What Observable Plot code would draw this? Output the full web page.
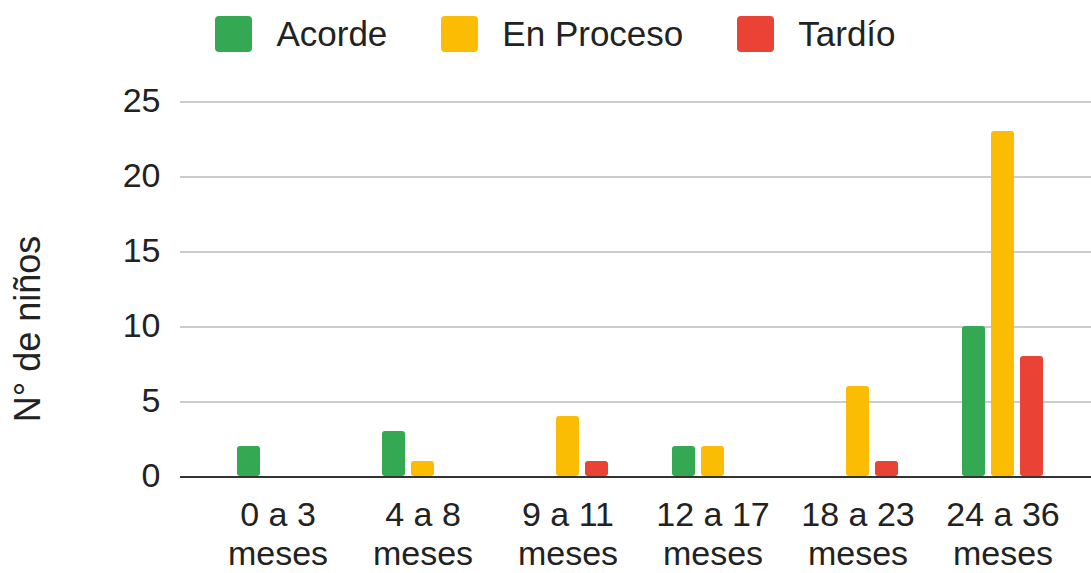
<!DOCTYPE html>
<html>
<head>
<meta charset="utf-8">
<script src="https://cdn.jsdelivr.net/npm/d3@7"></script>
<script src="https://cdn.jsdelivr.net/npm/@observablehq/plot@0.6"></script>
<style>
  html, body { margin: 0; padding: 0; background: #fff; }
  body { width: 1091px; height: 573px; overflow: hidden; font-family: "Liberation Sans", Arial, sans-serif; }
  #legend { height: 68px; display: flex; justify-content: center; align-items: center; padding-left: 20px; box-sizing: border-box; }
  .item { display: flex; align-items: center; margin: 0 27px; font-size: 35px; color: #222; }
  .sw { width: 37px; height: 36px; border-radius: 4px; margin-right: 24px; }
  #chart svg { display: block; }
</style>
</head>
<body>
<div id="legend"></div>
<div id="chart"></div>
<script>
const categories = ["0 a 3 meses", "4 a 8 meses", "9 a 11 meses", "12 a 17 meses", "18 a 23 meses", "24 a 36 meses"];
const series = ["Acorde", "En Proceso", "Tardío"];
const colors = ["#34a853", "#fbbc04", "#ea4335"];
const acorde = [2, 3, 0, 2, 0, 10];
const enProceso = [0, 1, 4, 2, 6, 23];
const tardio = [0, 0, 1, 0, 1, 8];
const yTicks = [0, 5, 10, 15, 20, 25];
const yLabel = "N° de niños";

const values = [acorde, enProceso, tardio];
const data = [];
categories.forEach((c, i) => series.forEach((s, j) => data.push({cat: c, serie: s, value: values[j][i]})));

const legend = document.getElementById("legend");
series.forEach((s, j) => {
  const it = document.createElement("div");
  it.className = "item";
  const sw = document.createElement("div");
  sw.className = "sw";
  sw.style.background = colors[j];
  it.appendChild(sw);
  it.appendChild(document.createTextNode(s));
  legend.appendChild(it);
});

const chart = Plot.plot({
  width: 1091,
  height: 505,
  marginLeft: 180,
  marginRight: 0,
  marginTop: 33,
  marginBottom: 97,
  style: {fontFamily: "Liberation Sans, Arial, sans-serif", color: "#222", background: "#fff"},
  fx: {domain: categories, paddingInner: 0, paddingOuter: 0.137, align: 0.613, label: null},
  x: {domain: series, paddingInner: 0.2, paddingOuter: 1.02, axis: null},
  y: {domain: [0, 25], label: null},
  color: {domain: series, range: colors},
  marks: [
    Plot.ruleY(yTicks.filter(d => d > 0), {stroke: "#cccccc", strokeWidth: 2, insetLeft: -25, insetRight: -16, shapeRendering: "crispEdges"}),
    Plot.barY(data.filter(d => d.value > 0), {fx: "cat", x: "serie", y: "value", fill: "serie", rx: 3, ry: 3}),
    Plot.ruleY([0], {stroke: "#333333", strokeWidth: 2, insetLeft: -25, insetRight: -16, shapeRendering: "crispEdges"}),
    Plot.axisY({ticks: yTicks, tickSize: 0, tickPadding: 45, fontSize: 34, label: null}),
    Plot.text([yLabel], {facet: "super", frameAnchor: "left", rotate: -90, lineAnchor: "middle", textAnchor: "middle",
      dx: -177, dy: 40, fontSize: 36, fill: "#222"}),
    Plot.axisFx({anchor: "bottom", tickSize: 0, tickPadding: 22, fontSize: 34, lineHeight: 1.15, label: null,
      tickFormat: d => d.replace(" meses", "\nmeses")})
  ]
});
document.getElementById("chart").appendChild(chart);
</script>
</body>
</html>
